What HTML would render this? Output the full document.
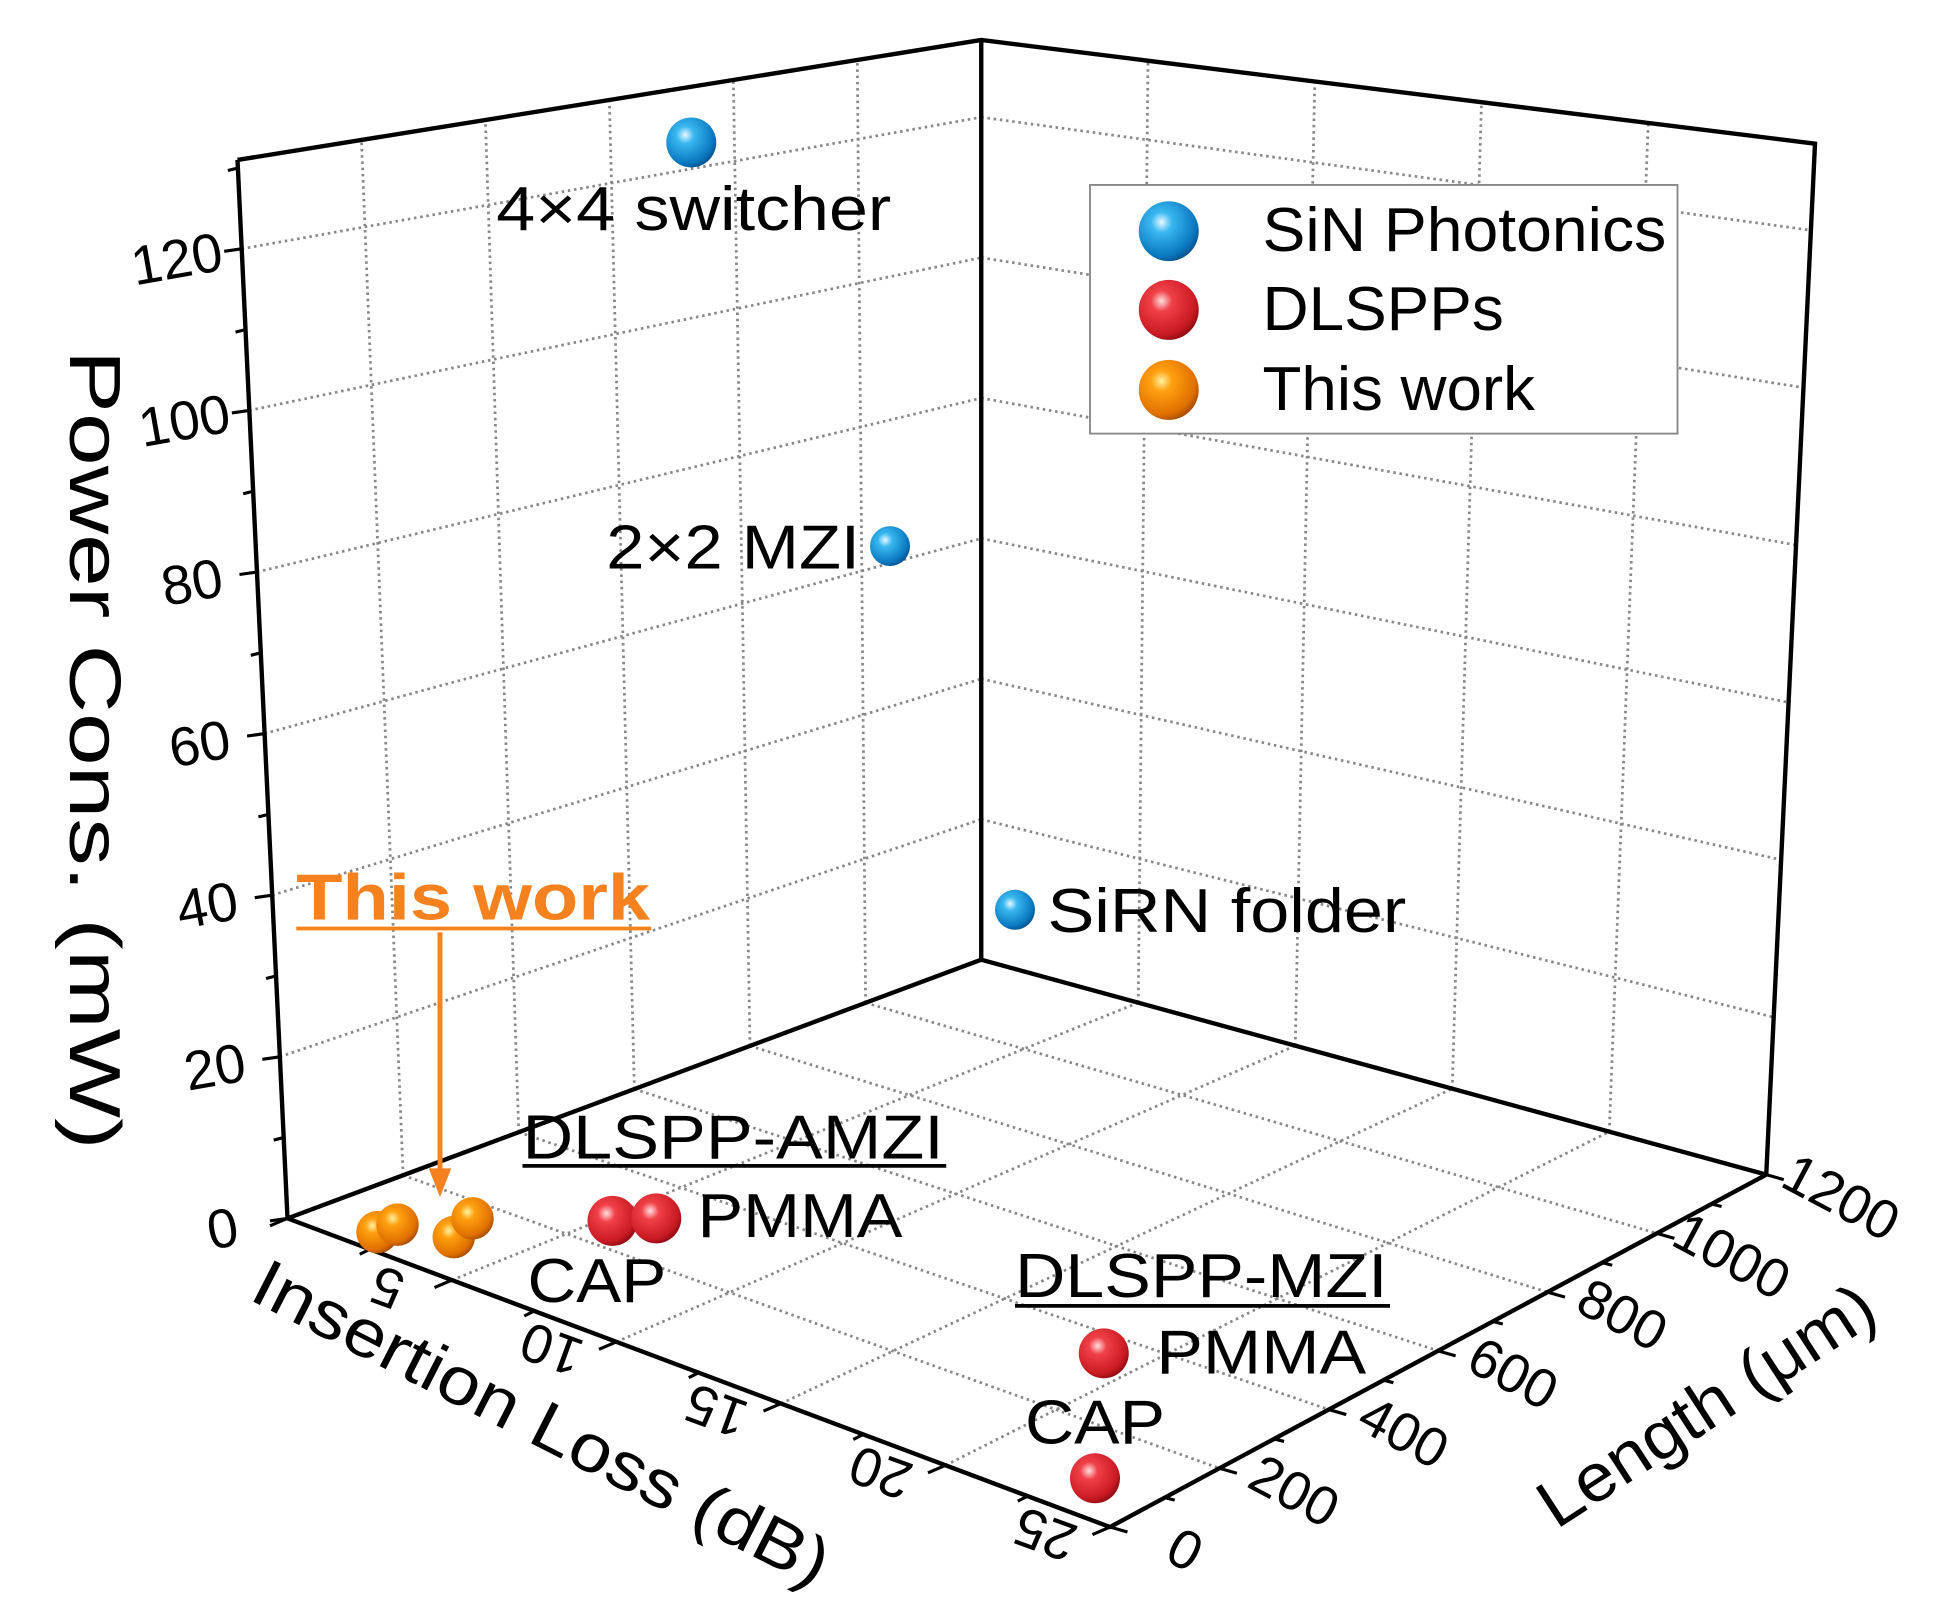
<!DOCTYPE html>
<html><head><meta charset="utf-8"><style>
html,body{margin:0;padding:0;background:#fff;}
svg{display:block;}
text{font-family:"Liberation Sans",sans-serif;fill:#000;}
</style></head><body>
<svg id="s" width="1960" height="1612" viewBox="0 0 1568 1290" preserveAspectRatio="none" xmlns="http://www.w3.org/2000/svg">
<defs>
<radialGradient id="gb" cx="0.38" cy="0.35" r="0.7"><stop offset="0" stop-color="#e8f8ff"/><stop offset="0.25" stop-color="#39b8f0"/><stop offset="0.8" stop-color="#0a78c0"/><stop offset="1" stop-color="#04508a"/></radialGradient>
<radialGradient id="gr" cx="0.38" cy="0.35" r="0.7"><stop offset="0" stop-color="#ffe0e0"/><stop offset="0.25" stop-color="#f04048"/><stop offset="0.8" stop-color="#c81a22"/><stop offset="1" stop-color="#8a0a10"/></radialGradient>
<radialGradient id="go" cx="0.38" cy="0.35" r="0.7"><stop offset="0" stop-color="#fff0a0"/><stop offset="0.25" stop-color="#ffa010"/><stop offset="0.8" stop-color="#e07000"/><stop offset="1" stop-color="#a04800"/></radialGradient>
</defs>
<g id="grid" stroke="#888" stroke-width="2.2" stroke-dasharray="2,3" fill="none"></g>
<g id="axes" stroke="#000" stroke-width="3.5" fill="none">
<polyline points="190,128 230,975 888,1222 1413,940 1452,115 785,32 190,128"/>
<polyline points="785,32 785,768 1413,940"/>
<line x1="785" y1="768" x2="230" y2="975"/>
</g>
<g id="ticks" stroke="#000" stroke-width="2.5"></g>
<g id="labels" font-size="44"></g>
<rect x="872" y="148" width="470" height="199" fill="#fff" stroke="#888" stroke-width="1.5"/>
<circle cx="935" cy="185" r="24" fill="url(#gb)"/>
<circle cx="935" cy="248" r="24" fill="url(#gr)"/>
<circle cx="935" cy="312" r="24" fill="url(#go)"/>
<text x="1010" y="201" font-size="50" textLength="323" lengthAdjust="spacingAndGlyphs">SiN Photonics</text>
<text x="1010" y="264" font-size="50" textLength="193" lengthAdjust="spacingAndGlyphs">DLSPPs</text>
<text x="1010" y="328" font-size="50" textLength="218" lengthAdjust="spacingAndGlyphs">This work</text>
<circle cx="553" cy="114" r="20" fill="url(#gb)"/>
<text x="397" y="184" font-size="50" textLength="316" lengthAdjust="spacingAndGlyphs">4×4 switcher</text>
<circle cx="712" cy="437" r="16" fill="url(#gb)"/>
<text x="485" y="455" font-size="50" textLength="203" lengthAdjust="spacingAndGlyphs">2×2 MZI</text>
<circle cx="812" cy="728" r="16" fill="url(#gb)"/>
<text x="838" y="746" font-size="50" textLength="287" lengthAdjust="spacingAndGlyphs">SiRN folder</text>
<text x="418" y="927" font-size="50" textLength="337" lengthAdjust="spacingAndGlyphs">DLSPP-AMZI</text>
<line x1="418" y1="933" x2="757" y2="933" stroke="#000" stroke-width="3"/>
<circle cx="490" cy="977" r="20" fill="url(#gr)"/>
<circle cx="525" cy="975" r="20" fill="url(#gr)"/>
<text x="558" y="990" font-size="50" textLength="164" lengthAdjust="spacingAndGlyphs">PMMA</text>
<text x="422" y="1042" font-size="50" textLength="111" lengthAdjust="spacingAndGlyphs">CAP</text>
<text x="812" y="1038" font-size="50" textLength="298" lengthAdjust="spacingAndGlyphs">DLSPP-MZI</text>
<line x1="812" y1="1045" x2="1112" y2="1045" stroke="#000" stroke-width="3"/>
<circle cx="883" cy="1083" r="20" fill="url(#gr)"/>
<text x="925" y="1099" font-size="50" textLength="168" lengthAdjust="spacingAndGlyphs">PMMA</text>
<text x="820" y="1155" font-size="50" textLength="112" lengthAdjust="spacingAndGlyphs">CAP</text>
<circle cx="876" cy="1183" r="20" fill="url(#gr)"/>
<circle cx="302" cy="986" r="17" fill="url(#go)"/>
<circle cx="318" cy="980" r="17" fill="url(#go)"/>
<circle cx="363" cy="990" r="17" fill="url(#go)"/>
<circle cx="378" cy="975" r="17" fill="url(#go)"/>
<text x="237" y="736" font-size="52" font-weight="bold" style="fill:#f5821f" textLength="283" lengthAdjust="spacingAndGlyphs">This work</text>
<line x1="237" y1="743" x2="521" y2="743" stroke="#f5821f" stroke-width="3"/>
<line x1="352" y1="746" x2="352" y2="940" stroke="#f5821f" stroke-width="4"/>
<polygon points="343,935 361,935 352,958" fill="#f5821f"/>
<text font-size="58" transform="translate(56,600) rotate(90)" text-anchor="middle" textLength="640" lengthAdjust="spacingAndGlyphs">Power Cons. (mW)</text>
<text font-size="54" transform="translate(425,1155) rotate(27)" text-anchor="middle" textLength="510" lengthAdjust="spacingAndGlyphs">Insertion Loss (dB)</text>
<text font-size="54" transform="translate(1375,1140) rotate(-33)" text-anchor="middle" textLength="310" lengthAdjust="spacingAndGlyphs">Length (μm)</text>
</svg>
<script>
var NS="http://www.w3.org/2000/svg";
function L(g,x1,y1,x2,y2){var e=document.createElementNS(NS,"line");e.setAttribute("x1",x1);e.setAttribute("y1",y1);e.setAttribute("x2",x2);e.setAttribute("y2",y2);document.getElementById(g).appendChild(e);}
function T(s,x,y,r){var e=document.createElementNS(NS,"text");e.textContent=s;e.setAttribute("transform","translate("+x+","+y+") rotate("+r+")");e.setAttribute("text-anchor","middle");e.setAttribute("dominant-baseline","central");document.getElementById("labels").appendChild(e);}
function lerp(a,b,t){return [a[0]+(b[0]-a[0])*t,a[1]+(b[1]-a[1])*t];}
var FL=[230,975],BK=[785,768],RT=[1413,940],FR=[888,1222];
var FLt=[190,128],BKt=[785,32],RTt=[1452,115];
var PT=131;
for(var i=1;i<5;i++){var t=i/5;var a=lerp(FL,FR,t),b=lerp(BK,RT,t);L("grid",a[0],a[1],b[0],b[1]);}
for(var j=1;j<6;j++){var t=j/6;var a=lerp(FL,BK,t),b=lerp(FR,RT,t);L("grid",a[0],a[1],b[0],b[1]);}
for(var j=1;j<6;j++){var t=j/6;var a=lerp(FL,BK,t),b=lerp(FLt,BKt,t);L("grid",a[0],a[1],b[0],b[1]);}
for(var p=20;p<=120;p+=20){var t=p/PT;var a=lerp(FL,FLt,t),b=lerp(BK,BKt,t);L("grid",a[0],a[1],b[0],b[1]);}
for(var i=1;i<5;i++){var t=i/5;var a=lerp(BK,RT,t),b=lerp(BKt,RTt,t);L("grid",a[0],a[1],b[0],b[1]);}
for(var p=20;p<=120;p+=20){var t=p/PT;var a=lerp(BK,BKt,t),b=lerp(RT,RTt,t);L("grid",a[0],a[1],b[0],b[1]);}
for(var p=0;p<=130;p+=10){var a=lerp(FL,FLt,p/PT);L("ticks",a[0],a[1],a[0]-(p%20?8:14),a[1]+2);
 if(p%20==0)T(String(p),a[0]-52,a[1]+8,-10);}
for(var i=0;i<=25;i+=2.5){var a=lerp(FL,FR,i/25);L("ticks",a[0],a[1],a[0]-(i%5?8:14),a[1]+(i%5?4:6));
 if(i%5==0&&i>0)T(String(i),a[0]-52,a[1]+6,200);}
for(var l=0;l<=1200;l+=100){var a=lerp(FR,RT,l/1200);L("ticks",a[0],a[1],a[0]+(l%200?8:14),a[1]+(l%200?2:4));
 if(l%200==0)T(String(l),a[0]+60,a[1]+18,28);}
</script>
</body></html>
